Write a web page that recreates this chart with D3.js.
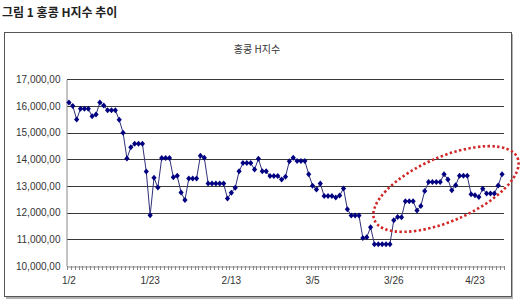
<!DOCTYPE html>
<html><head><meta charset="utf-8">
<script src="https://cdn.jsdelivr.net/npm/d3@7"></script>
<style>
html,body{margin:0;padding:0;background:#fff;}
svg{display:block;}
</style></head>
<body>
<svg id="chart" width="520" height="306"></svg>
<script>
const figureTitle = "그림 1 홍콩 H지수 추이";
const chartTitle = "홍콩 H지수";
const tickLabels = ["1/2", "1/23", "2/13", "3/5", "3/26", "4/23"];
const labelInterval = 21;
const yTicks = [10000, 11000, 12000, 13000, 14000, 15000, 16000, 17000];
const hsceiValues = [
  16130, 16000, 15490, 15900, 15900, 15900, 15610, 15680, 16130, 16020,
  15840, 15840, 15840, 15480, 15000, 14030, 14450, 14580, 14580, 14580,
  13540, 11900, 13310, 12940, 14050, 14050, 14050, 13330, 13380, 12760,
  12470, 13280, 13280, 13280, 14130, 14060, 13090, 13090, 13090, 13090,
  13090, 12530, 12750, 12930, 13550, 13860, 13860, 13860, 13620, 14020,
  13550, 13550, 13370, 13370, 13370, 13240, 13350, 13930, 14060, 13940,
  13940, 13940, 13440, 13010, 12870, 13090, 12620, 12620, 12620, 12570,
  12640, 12910, 12130, 11890, 11890, 11890, 11050, 11080, 11450, 10820,
  10820, 10820, 10820, 10820, 11720, 11840, 11830, 12430, 12430, 12430,
  12080, 12250, 12810, 13150, 13150, 13150, 13150, 13440, 13240, 12840,
  13030, 13380, 13380, 13380, 12690, 12650, 12590, 12900, 12720, 12720,
  12720, 13020, 13440
];

const svg = d3.select("#chart");
const idx = hsceiValues.map((d, i) => i);

// figure caption
svg.append("text").attr("x", 2).attr("y", 17)
  .attr("font-family", "'Noto Sans CJK KR', sans-serif")
  .attr("font-size", 12).attr("font-weight", "bold").attr("fill", "#222")
  .text(figureTitle);

// chart frame with shadow
svg.append("rect").attr("x", 6).attr("y", 34).attr("width", 507).attr("height", 265)
  .attr("fill", "#b0b0b0");
svg.append("rect").attr("x", 4.5).attr("y", 32.5).attr("width", 507).attr("height", 264)
  .attr("fill", "#fff").attr("stroke", "#555").attr("stroke-width", 1);

svg.append("text").attr("x", 257).attr("y", 53).attr("text-anchor", "middle")
  .attr("font-family", "'Noto Sans CJK KR', sans-serif")
  .attr("font-size", 10).attr("fill", "#333")
  .text(chartTitle);

const x = d3.scaleBand().domain(idx).range([67, 504]).padding(0);
const y = d3.scaleLinear().domain([10000, 17000]).range([266, 79.3]);

// gridlines
svg.append("g").selectAll("line").data(yTicks.filter(t => t > 10000)).join("line")
  .attr("x1", 67).attr("x2", 504)
  .attr("y1", d => Math.round(y(d)) + 0.5).attr("y2", d => Math.round(y(d)) + 0.5)
  .attr("stroke", "#3a3a3a").attr("stroke-width", 1);

// y axis
const yAxis = svg.append("g").attr("transform", "translate(66.5,0)")
  .call(d3.axisLeft(y).tickValues(yTicks).tickSize(0).tickPadding(6)
    .tickFormat(d => d3.format(",")(d) + ",00"));
yAxis.select(".domain").attr("stroke", "#888");
yAxis.selectAll("text").attr("font-family", "'Liberation Sans', Arial, sans-serif")
  .attr("font-size", 10).attr("fill", "#333");

// x axis
const xAxis = svg.append("g").attr("transform", "translate(0,266.5)")
  .call(d3.axisBottom(x).tickSize(0).tickPadding(10)
    .tickValues(idx.filter(i => i % labelInterval === 0))
    .tickFormat(i => tickLabels[i / labelInterval]));
xAxis.select(".domain").attr("stroke", "#888");
xAxis.selectAll("text").attr("font-family", "'Liberation Sans', Arial, sans-serif")
  .attr("font-size", 10).attr("fill", "#333");
// category tick marks (between categories)
svg.append("g").selectAll("line").data(idx.concat([idx.length])).join("line")
  .attr("x1", i => Math.round(67 + i * x.step()) + 0.5)
  .attr("x2", i => Math.round(67 + i * x.step()) + 0.5)
  .attr("y1", 266).attr("y2", 270).attr("stroke", "#888");

// series line
const line = d3.line().x((d, i) => x(i) + x.bandwidth() / 2).y(d => y(d));
svg.append("path").datum(hsceiValues).attr("d", line)
  .attr("fill", "none").attr("stroke", "#303078").attr("stroke-width", 1);

// diamond markers
svg.append("g").selectAll("path").data(hsceiValues).join("path")
  .attr("transform", (d, i) => `translate(${x(i) + x.bandwidth() / 2},${y(d)})`)
  .attr("d", "M0,-3L2.6,0L0,3L-2.6,0Z")
  .attr("fill", "#000080");

// red dotted highlight ellipse
svg.append("ellipse").attr("cx", 0).attr("cy", 0).attr("rx", 78).attr("ry", 32)
  .attr("transform", "translate(446,189) rotate(-23.6)")
  .attr("fill", "none").attr("stroke", "#d02828").attr("stroke-width", 2.6)
  .attr("stroke-dasharray", "2.4,2.4");
</script>
</body></html>
